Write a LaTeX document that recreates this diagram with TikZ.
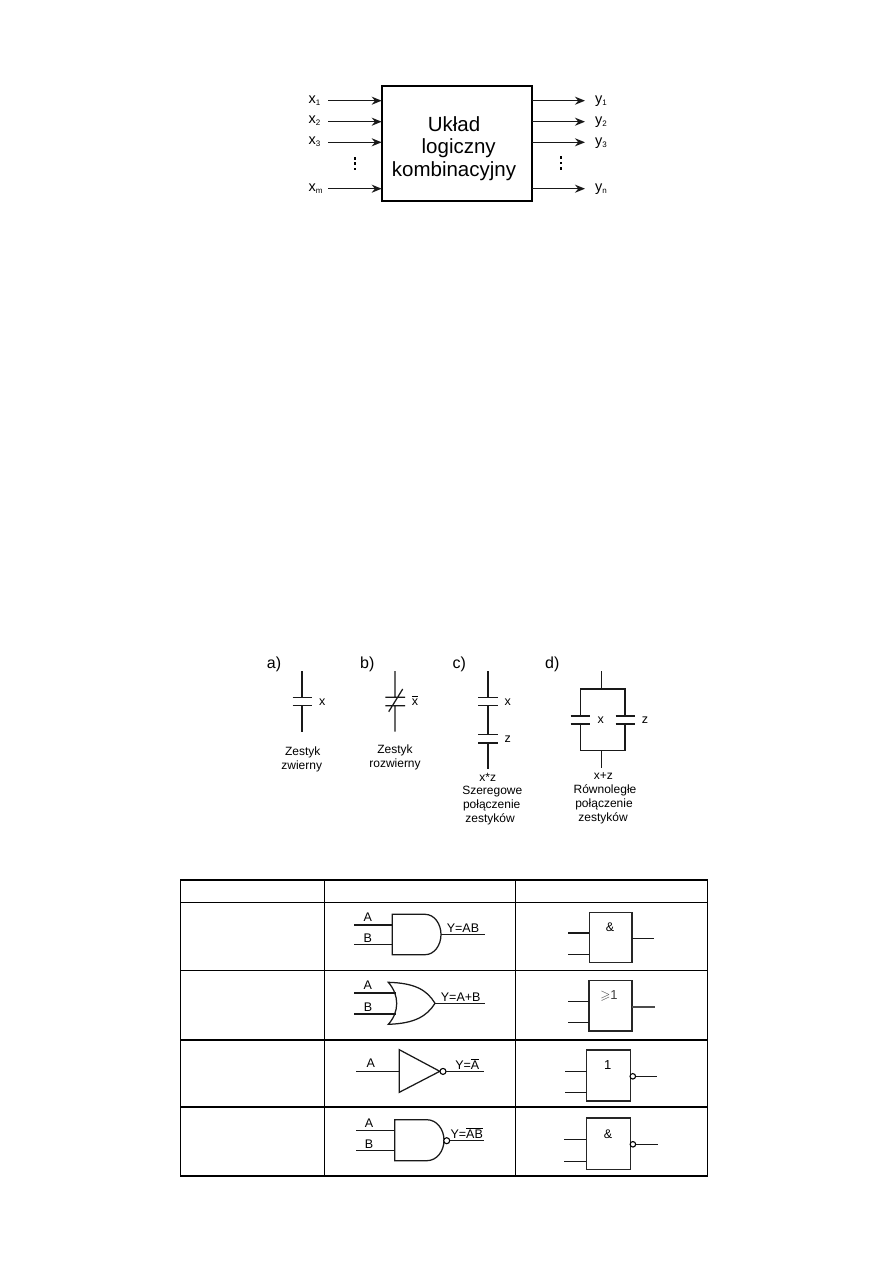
\documentclass[tikz,border=0pt]{standalone}
\usepackage{amssymb}
\usepackage{fontspec}
\setmainfont{Liberation Sans}
\usetikzlibrary{arrows.meta}
\newcommand{\fsz}[1]{\fontsize{#1}{#1}\selectfont}
\newcommand{\barred}[1]{$\overline{\mbox{#1}}$}
\newcommand{\subs}[2]{#1\raisebox{-2.4pt}{\fsz{8}#2}}
\tikzset{
  thinline/.style={line width=1.25pt,black!90},
  midline/.style={line width=1.5pt,black!90},
  flow/.style={line width=1.5pt,black!90,-{Stealth[length=10pt,width=8pt]}},
  bigblock/.style={draw,line width=2pt,rectangle,inner sep=0,outer sep=0},
  gatebox/.style={draw,line width=1.5pt,black!85,rectangle,inner sep=0,outer sep=0},
  bubble/.style={draw,fill=white,line width=1.1pt,circle,inner sep=0,outer sep=0,minimum size=6pt},
  sig/.style={inner sep=0,anchor=base west,font=\fsz{14.5}},
  tag/.style={inner sep=0,anchor=base west,font=\fsz{16}},
  cap12/.style={inner sep=0,anchor=base,font=\fsz{12}},
  pin/.style={inner sep=0,anchor=base,font=\fsz{12.5}},
  pinw/.style={inner sep=0,anchor=base west,font=\fsz{12.5}},
  title/.style={inner sep=0,anchor=base,font=\fsz{20.5}},
  gridline/.style={line width=1.2pt,black},
  vdot/.style={fill=black,inner sep=0,minimum size=2.5pt,rectangle},
}
\begin{document}
\begin{tikzpicture}[x=1pt,y=-1pt]
\useasboundingbox (0,0) rectangle (893,1263);
\fill[white] (0,0) rectangle (893,1263);

% Combinational block with its inputs and outputs
\node[bigblock,minimum width=150pt,minimum height=115.5pt] (blk) at (456.7,143.4) {};
\node[title] (t1) at (454,131.7) {Układ};
\node[title] (t2) at (458.7,153.3) {logiczny};
\node[title] (t3) at (454,176.7) {kombinacyjny};

\coordinate (in1) at (328,100.7);
\coordinate (in2) at (328,121.7);
\coordinate (in3) at (328,142.3);
\coordinate (inm) at (328,188.7);
\coordinate (out1) at (585,100.7);
\coordinate (out2) at (585,121.7);
\coordinate (out3) at (585,142.3);
\coordinate (outn) at (585,188.7);
\foreach \c in {in1,in2,in3,inm} \draw[flow] (\c) -- (\c -| blk.west);
\foreach \c in {out1,out2,out3,outn} \draw[flow] (\c -| blk.east) -- (\c);

\node[sig] (lx1) at (308.3,103) {\subs{x}{1}};
\node[sig] (lx2) at (308.3,123.5) {\subs{x}{2}};
\node[sig] (lx3) at (308.3,144.5) {\subs{x}{3}};
\node[sig] (lxm) at (308.3,191.5) {\subs{x}{m}};
\node[sig] (ly1) at (595,103.5) {\subs{y}{1}};
\node[sig] (ly2) at (595,124) {\subs{y}{2}};
\node[sig] (ly3) at (595,145) {\subs{y}{3}};
\node[sig] (lyn) at (595,191.5) {\subs{y}{n}};

\foreach \n/\y in {a/158.3,b/163.6,c/169} \node[vdot] (dl\n) at (355,\y) {};
\foreach \n/\y in {a/157.5,b/163,c/168.5} \node[vdot] (dr\n) at (561,\y) {};

% Contacts a) to d)
\node[tag] (ta) at (266.7,668.3) {a)};
\node[tag] (tb) at (360,668.3) {b)};
\node[tag] (tc) at (452.3,668.3) {c)};
\node[tag] (td) at (545,668.3) {d)};

% a) normally open contact
\draw[thinline] (302,671) -- (302,697.3) (292.7,697.3) -- (312,697.3)
                (292.7,705.7) -- (312,705.7) (302,705.7) -- (302,731.7);
\node[pinw] (xa) at (319,705) {x};
\node[cap12] (ca1) at (302.7,755) {Zestyk};
\node[cap12] (ca2) at (301.7,769) {zwierny};

% b) normally closed contact
\draw[thinline] (395,671) -- (395,697.3) (385.3,697.3) -- (405,697.3)
                (385.3,705.7) -- (405,705.7) (395,705.7) -- (395,731.7)
                (388.7,711.7) -- (402.7,689);
\node[pinw] (xb) at (411.7,705) {\barred{x}};
\node[cap12] (cb1) at (395,753.3) {Zestyk};
\node[cap12] (cb2) at (395,767) {rozwierny};

% c) series connection
\draw[thinline] (488,671) -- (488,697.3) (478,697.3) -- (498,697.3)
                (478,705.7) -- (498,705.7) (478,734.3) -- (498,734.3)
                (478,743) -- (498,743) (488,743) -- (488,769);
\draw[midline] (488,705.7) -- (488,734.3);
\node[pinw] (xc) at (504.3,705) {x};
\node[pinw] (zc) at (504.3,742.3) {z};
\node[cap12] (cc0) at (487.7,781) {x*z};
\node[cap12] (cc1) at (492.3,794.3) {Szeregowe};
\node[cap12] (cc2) at (491.7,808.3) {połączenie};
\node[cap12] (cc3) at (490,822) {zestyków};

% d) parallel connection
\draw[thinline] (601.7,671) -- (601.7,689) (601.7,750.3) -- (601.7,767.7)
  (580.7,716) -- (580.7,689) -- (625,689) -- (625,716)
  (580.7,724) -- (580.7,750.3) -- (625,750.3) -- (625,724)
  (570.7,716) -- (590,716) (570.7,724) -- (590,724)
  (615.7,716) -- (634.7,716) (615.7,724) -- (634.7,724);
\node[pinw] (xd) at (597.3,723.7) {x};
\node[pinw] (zd) at (641.7,723) {z};
\node[cap12] (cd0) at (603.3,779.3) {x+z};
\node[cap12] (cd1) at (605,793.3) {Równoległe};
\node[cap12] (cd2) at (604,807) {połączenie};
\node[cap12] (cd3) at (603,821) {zestyków};

% Table grid
\draw[gridline] (180.5,880) rectangle (707.7,1176);
\foreach \y in {902.3,970.3,1040,1107} \draw[gridline] (180.5,\y) -- (707.7,\y);
\foreach \x in {324.3,515.3} \draw[gridline] (\x,880) -- (\x,1176);

% AND, distinctive shape
\draw[thinline] (425,914.3) -- (392.3,914.3) -- (392.3,954.7) -- (425,954.7)
  .. controls (434.5,954.7) and (441,945) .. (441,934.5)
  .. controls (441,924) and (434.5,914.3) .. (425,914.3) -- cycle;
\draw[thinline] (354,925) -- (392.3,925) (354,944.7) -- (392.3,944.7) (441,934.3) -- (485,934.3);
\node[pin] (a1) at (367.7,921.7) {A};
\node[pin] (b1) at (367.7,942.3) {B};
\node[pin] (y1) at (463,932.7) {Y=AB};

% OR, distinctive shape
\draw[thinline] (388.3,982.3) .. controls (415,983) and (427,990) .. (435,1003.3)
  .. controls (427,1016) and (415,1023.5) .. (388.3,1024.3)
  .. controls (399.5,1012) and (399.5,995) .. (388.3,982.3) -- cycle;
\draw[thinline] (354,993) -- (395.5,993) (354,1014) -- (395.5,1014) (435,1003.3) -- (485,1003.3);
\node[pin] (a2) at (367.7,989.7) {A};
\node[pin] (b2) at (368,1011) {B};
\node[pin] (y2) at (460.7,1001) {Y=A+B};

% NOT, distinctive shape
\draw[thinline] (399.3,1049.7) -- (399.3,1092.3) -- (439.8,1071.3) -- cycle;
\node[bubble] (n3) at (443,1071.4) {};
\draw[thinline] (356,1071.4) -- (399.3,1071.4) (n3) -- (484,1071.4);
\node[pin] (a3) at (370.7,1067.7) {A};
\node[pin] (y3) at (467.3,1069.3) {Y=\barred{A}};

% NAND, distinctive shape
\draw[thinline] (426.7,1119.7) -- (394.7,1119.7) -- (394.7,1160.7) -- (426.7,1160.7)
  .. controls (437,1160.7) and (444,1151) .. (444,1140.2)
  .. controls (444,1129.5) and (437,1119.7) .. (426.7,1119.7) -- cycle;
\node[bubble] (n4) at (446.7,1140.7) {};
\draw[thinline] (356,1130.3) -- (394.7,1130.3) (356,1150.3) -- (394.7,1150.3);
\draw[midline] (n4) -- (484,1140.7);
\node[pin] (a4) at (369,1127) {A};
\node[pin] (b4) at (369,1148.3) {B};
\node[pin] (y4) at (466.7,1138.3) {Y=\barred{AB}};

% IEC rectangular symbols
\node[gatebox,minimum width=42.7pt,minimum height=50pt] (g1) at (610.6,937.3) {};
\draw[thinline] (568.3,933) -- (g1.west |- 0,933) (568.3,954.3) -- (g1.west |- 0,954.3)
  (g1.east |- 0,938.3) -- (654.3,938.3);
\node[inner sep=0,font=\fsz{12.5}] (s1) at (610,927.7) {\&};

\node[gatebox,minimum width=43pt,minimum height=50.7pt] (g2) at (610.5,1005.7) {};
\draw[thinline] (568,1001.7) -- (g2.west |- 0,1001.7) (568,1022.3) -- (g2.west |- 0,1022.3);
\draw[thinline,black!70] (g2.east |- 0,1007) -- (654.7,1007);
\node[inner sep=0,font=\fsz{13},text=black!75] (s2) at (609,995.7) {$\geqslant$1};

\node[gatebox,minimum width=43.6pt,minimum height=51.3pt] (g3) at (608.5,1075.4) {};
\node[bubble,minimum size=5.5pt] (n5) at (632.8,1076.3) {};
\draw[thinline] (565,1071.7) -- (g3.west |- 0,1071.7) (565,1092.7) -- (g3.west |- 0,1092.7)
  (n5) -- (656.7,1076.3);
\node[inner sep=0,font=\fsz{13}] (s3) at (607.7,1065) {1};

\node[gatebox,minimum width=44pt,minimum height=51.7pt] (g4) at (608.3,1143.8) {};
\node[bubble,minimum size=5.5pt] (n6) at (632.9,1144.3) {};
\draw[thinline] (564.3,1139.3) -- (g4.west |- 0,1139.3) (564.3,1161.7) -- (g4.west |- 0,1161.7)
  (n6) -- (658,1144.3);
\node[inner sep=0,font=\fsz{12.5}] (s4) at (608,1134) {\&};
\end{tikzpicture}
\end{document}
